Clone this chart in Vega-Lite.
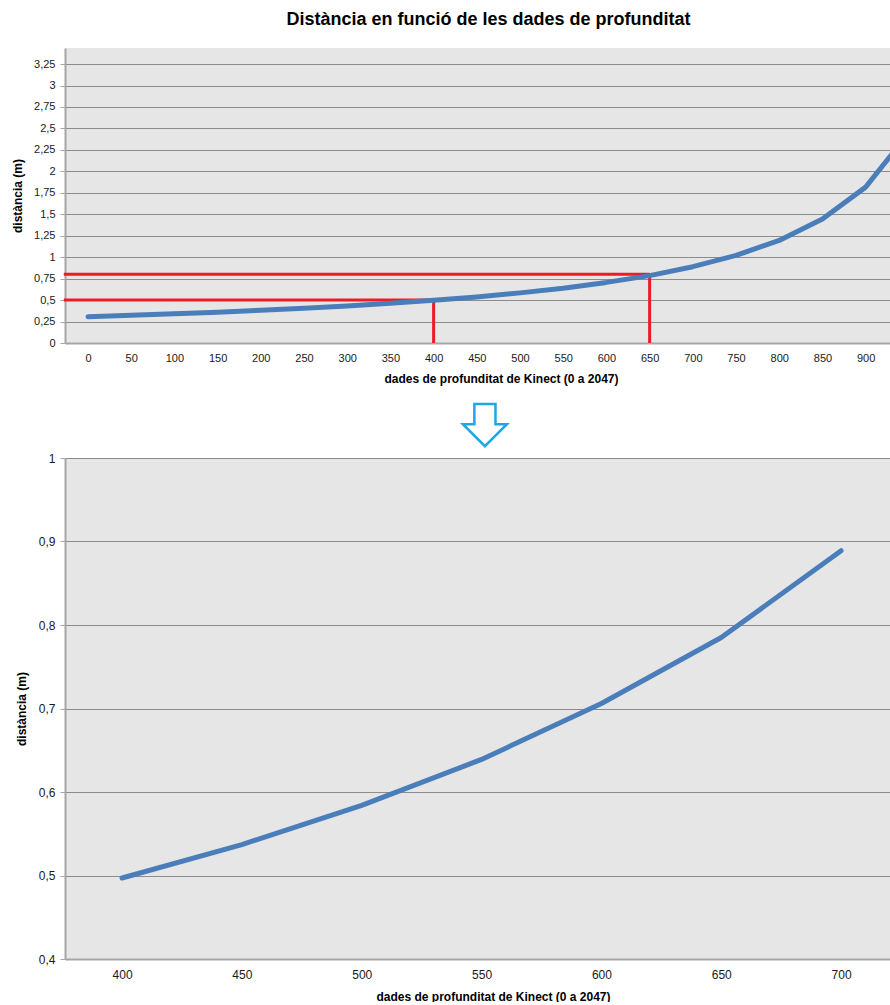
{
  "$schema": "https://vega.github.io/schema/vega-lite/v6.json",
  "background": "white",
  "padding": {"left": 11, "top": 11, "right": 0, "bottom": 0},
  "config": {
    "font": "Liberation Sans",
    "view": {"stroke": null, "fill": "#e6e6e6"},
    "axis": {
      "labelFont": "Liberation Sans",
      "titleFont": "Liberation Sans",
      "labelColor": "#1a1a1a",
      "titleColor": "#000000",
      "titleFontWeight": "bold",
      "domainColor": "#a6a6a6",
      "domainWidth": 2,
      "tickColor": "#a6a6a6",
      "gridColor": "#8c8c8c",
      "gridWidth": 1,
      "labelOverlap": false
    }
  },
  "datasets": {
    "kinect": [
      {"raw": 0, "dist": 0.307},
      {"raw": 50, "dist": 0.322},
      {"raw": 100, "dist": 0.340},
      {"raw": 150, "dist": 0.359},
      {"raw": 200, "dist": 0.381},
      {"raw": 250, "dist": 0.405},
      {"raw": 300, "dist": 0.432},
      {"raw": 350, "dist": 0.462},
      {"raw": 400, "dist": 0.497},
      {"raw": 450, "dist": 0.537},
      {"raw": 500, "dist": 0.584},
      {"raw": 550, "dist": 0.639},
      {"raw": 600, "dist": 0.706},
      {"raw": 650, "dist": 0.785},
      {"raw": 700, "dist": 0.889},
      {"raw": 750, "dist": 1.02},
      {"raw": 800, "dist": 1.195},
      {"raw": 850, "dist": 1.444},
      {"raw": 900, "dist": 1.816},
      {"raw": 950, "dist": 2.45}
    ],
    "guides": [
      {"raw": -28, "raw2": 400, "dist": 0.5, "dist2": 0.5},
      {"raw": 400, "raw2": 400, "dist": 0, "dist2": 0.5},
      {"raw": -28, "raw2": 650, "dist": 0.8, "dist2": 0.8},
      {"raw": 650, "raw2": 650, "dist": 0, "dist2": 0.8}
    ],
    "zoomed": [
      {"raw": 400, "dist": 0.497},
      {"raw": 450, "dist": 0.537},
      {"raw": 500, "dist": 0.584},
      {"raw": 550, "dist": 0.639},
      {"raw": 600, "dist": 0.706},
      {"raw": 650, "dist": 0.785},
      {"raw": 700, "dist": 0.889}
    ],
    "arrow": [{"raw": 551.4, "dist": 1.0395}]
  },
  "concat": [
    {
      "width": 825,
      "height": 295,
      "title": {
        "text": "Distància en funció de les dades de profunditat",
        "font": "Liberation Sans",
        "fontSize": 18,
        "fontWeight": "bold",
        "color": "#000000",
        "frame": "group",
        "anchor": "middle",
        "dx": 11,
        "offset": 19
      },
      "encoding": {
        "x": {
          "field": "raw", "type": "quantitative",
          "scale": {"domain": [-26.6, 928.2], "nice": false, "zero": false},
          "axis": {
            "title": "dades de profunditat  de Kinect (0 a 2047)",
            "titleFontSize": 12,
            "titleX": 436,
            "titlePadding": 10,
            "values": [0, 50, 100, 150, 200, 250, 300, 350, 400, 450, 500, 550, 600, 650, 700, 750, 800, 850, 900],
            "labelFontSize": 11,
            "labelPadding": 9,
            "ticks": false,
            "grid": false
          }
        },
        "y": {
          "field": "dist", "type": "quantitative",
          "scale": {"domain": [0, 3.437], "nice": false},
          "axis": {
            "title": "distància (m)",
            "titleFontSize": 12,
            "titlePadding": 9.5,
            "values": [0, 0.25, 0.5, 0.75, 1, 1.25, 1.5, 1.75, 2, 2.25, 2.5, 2.75, 3, 3.25],
            "labelExpr": "replace(toString(datum.value), '.', ',')",
            "labelFontSize": 11,
            "labelPadding": 5,
            "tickSize": 5,
            "grid": true
          }
        }
      },
      "layer": [
        {
          "data": {"name": "guides"},
          "mark": {"type": "rule", "color": "#ed1c24", "strokeWidth": 3, "clip": false},
          "encoding": {
            "x2": {"field": "raw2"},
            "y2": {"field": "dist2"}
          }
        },
        {
          "data": {"name": "kinect"},
          "mark": {"type": "line", "color": "#4a7ebb", "strokeWidth": 5, "strokeCap": "round", "strokeJoin": "round", "clip": true}
        }
      ]
    },
    {
      "width": 825,
      "height": 501,
      "encoding": {
        "x": {
          "field": "raw", "type": "quantitative",
          "scale": {"domain": [376.2, 720.4], "nice": false, "zero": false},
          "axis": {
            "title": "dades de profunditat  de Kinect (0 a 2047)",
            "titleFontSize": 12,
            "titleX": 428,
            "titlePadding": 11,
            "values": [400, 450, 500, 550, 600, 650, 700],
            "labelFontSize": 12,
            "labelPadding": 10,
            "ticks": false,
            "grid": false
          }
        },
        "y": {
          "field": "dist", "type": "quantitative",
          "scale": {"domain": [0.4, 1], "nice": false, "zero": false},
          "axis": {
            "title": "distància (m)",
            "titleFontSize": 12,
            "titlePadding": 9.5,
            "values": [0.4, 0.5, 0.6, 0.7, 0.8, 0.9, 1],
            "labelExpr": "replace(toString(datum.value), '.', ',')",
            "labelFontSize": 12,
            "labelPadding": 5,
            "tickSize": 5,
            "grid": true
          }
        }
      },
      "layer": [
        {
          "data": {"name": "arrow"},
          "mark": {
            "type": "point",
            "shape": "M -0.48 -0.96 L 0.48 -0.96 L 0.48 -0.04 L 1 -0.04 L 0 0.96 L -1 -0.04 L -0.48 -0.04 Z",
            "size": 1936,
            "filled": false,
            "fill": "white",
            "fillOpacity": 1,
            "stroke": "#1ea6e6",
            "strokeWidth": 2.5,
            "strokeJoin": "miter",
            "opacity": 1,
            "clip": false
          }
        },
        {
          "data": {"name": "zoomed"},
          "mark": {"type": "line", "color": "#4a7ebb", "strokeWidth": 5, "strokeCap": "round", "strokeJoin": "round"}
        }
      ]
    }
  ],
  "columns": 1,
  "spacing": 14
}
